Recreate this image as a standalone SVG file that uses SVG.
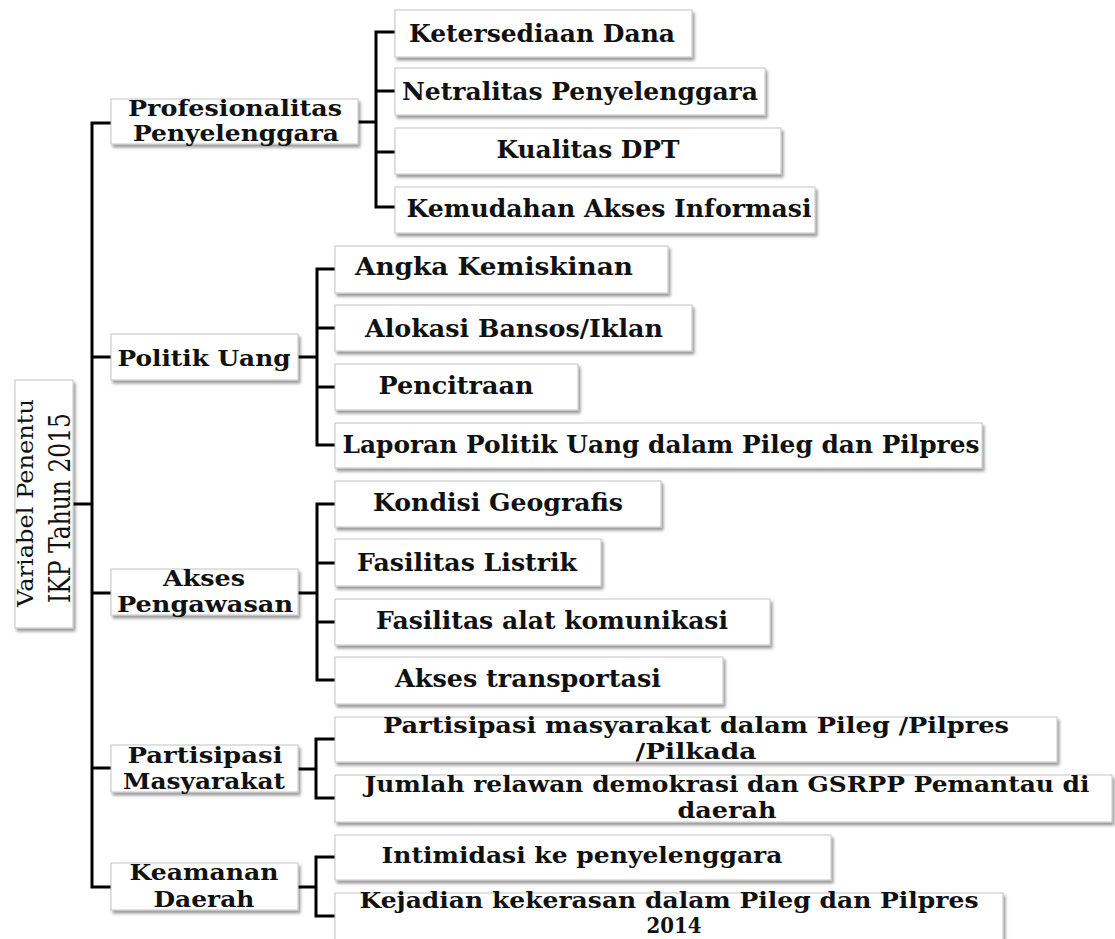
<svg xmlns="http://www.w3.org/2000/svg" width="1115" height="939" viewBox="0 0 1115 939">
<defs>
<filter id="sh" x="-5%" y="-20%" width="112%" height="150%">
<feDropShadow dx="2" dy="3" stdDeviation="1.8" flood-color="#000" flood-opacity="0.4"/>
</filter>
</defs>
<style>
.box{fill:#fff;stroke:#c4c4c4;stroke-width:1;filter:url(#sh)}
.conn{fill:none;stroke:#000;stroke-width:3;stroke-linejoin:miter;stroke-linecap:butt}
.t{font-family:"DejaVu Serif","Liberation Serif",serif;font-weight:bold;font-size:24px;fill:#111;text-anchor:middle}
.t1{font-family:"DejaVu Serif","Liberation Serif",serif;font-weight:bold;font-size:23px;fill:#111;text-anchor:middle}
.ts{font-family:"DejaVu Serif","Liberation Serif",serif;font-weight:bold;font-size:23px;fill:#111;text-anchor:middle}
.r{font-family:"DejaVu Serif","Liberation Serif",serif;font-weight:normal;fill:#111;text-anchor:middle}
</style>
<rect width="1115" height="939" fill="#fff"/>
<g id="connectors">
<path class="conn" d="M73,504 H92"/>
<path class="conn" d="M111,123 H92 V887 H111"/>
<path class="conn" d="M92,357 H111 M92,593 H111 M92,768 H111"/>
<path class="conn" d="M358,122 H376 M395,32 H376 V207 H395 M376,91 H395 M376,152 H395"/>
<path class="conn" d="M298,357 H317 M335,269 H317 V445 H335 M317,328 H335 M317,387 H335"/>
<path class="conn" d="M298,593 H317 M335,504 H317 V680 H335 M317,563 H335 M317,622 H335"/>
<path class="conn" d="M298,769 H316 M335,739 H316 V798 H335"/>
<path class="conn" d="M298,887 H316 M335,857 H316 V916 H335"/>
</g>
<g id="root">
<rect class="box" x="15" y="380" width="58" height="248"/>
<text class="r" font-size="23" transform="translate(33,503) rotate(-90)" textLength="208" lengthAdjust="spacingAndGlyphs">Variabel Penentu</text>
<text class="r" font-size="29" transform="translate(70,508) rotate(-90)" textLength="190" lengthAdjust="spacingAndGlyphs">IKP Tahun 2015</text>
</g>
<g id="profesionalitas">
<rect class="box" x="111" y="99" width="247" height="45"/>
<text class="t1" x="235" y="116" textLength="214" lengthAdjust="spacingAndGlyphs">Profesionalitas</text>
<text class="t1" x="236" y="141" textLength="206" lengthAdjust="spacingAndGlyphs">Penyelenggara</text>
</g>
<g id="ketersediaan">
<rect class="box" x="395" y="10" width="297" height="47"/>
<text class="t" x="542" y="42" textLength="266" lengthAdjust="spacingAndGlyphs">Ketersediaan Dana</text>
</g>
<g id="netralitas">
<rect class="box" x="395" y="68" width="370" height="47"/>
<text class="t" x="580" y="100" textLength="356" lengthAdjust="spacingAndGlyphs">Netralitas Penyelenggara</text>
</g>
<g id="kualitas">
<rect class="box" x="395" y="128" width="386" height="46"/>
<text class="t" x="588" y="158" textLength="183" lengthAdjust="spacingAndGlyphs">Kualitas DPT</text>
</g>
<g id="kemudahan">
<rect class="box" x="395" y="187" width="420" height="46"/>
<text class="t" x="609" y="217" textLength="405" lengthAdjust="spacingAndGlyphs">Kemudahan Akses Informasi</text>
</g>
<g id="politik">
<rect class="box" x="111" y="334" width="187" height="46"/>
<text class="t1" x="204" y="366" textLength="173" lengthAdjust="spacingAndGlyphs">Politik Uang</text>
</g>
<g id="angka">
<rect class="box" x="335" y="246" width="333" height="47"/>
<text class="t" x="494" y="275" textLength="278" lengthAdjust="spacingAndGlyphs">Angka Kemiskinan</text>
</g>
<g id="alokasi">
<rect class="box" x="335" y="305" width="357" height="46"/>
<text class="t" x="514" y="337" textLength="298" lengthAdjust="spacingAndGlyphs">Alokasi Bansos/Iklan</text>
</g>
<g id="pencitraan">
<rect class="box" x="335" y="364" width="243" height="46"/>
<text class="t" x="456" y="394" textLength="155" lengthAdjust="spacingAndGlyphs">Pencitraan</text>
</g>
<g id="laporan">
<rect class="box" x="335" y="423" width="647" height="45"/>
<text class="t" x="661" y="453" textLength="637" lengthAdjust="spacingAndGlyphs">Laporan Politik Uang dalam Pileg dan Pilpres</text>
</g>
<g id="akses">
<rect class="box" x="111" y="569" width="187" height="46"/>
<text class="t1" x="204" y="586" textLength="82" lengthAdjust="spacingAndGlyphs">Akses</text>
<text class="t1" x="205" y="612" textLength="176" lengthAdjust="spacingAndGlyphs">Pengawasan</text>
</g>
<g id="kondisi">
<rect class="box" x="335" y="481" width="326" height="46"/>
<text class="t" x="498" y="511" textLength="250" lengthAdjust="spacingAndGlyphs">Kondisi Geografis</text>
</g>
<g id="listrik">
<rect class="box" x="335" y="539" width="266" height="47"/>
<text class="t" x="467" y="571" textLength="220" lengthAdjust="spacingAndGlyphs">Fasilitas Listrik</text>
</g>
<g id="komunikasi">
<rect class="box" x="335" y="599" width="435" height="46"/>
<text class="t" x="552" y="629" textLength="352" lengthAdjust="spacingAndGlyphs">Fasilitas alat komunikasi</text>
</g>
<g id="transportasi">
<rect class="box" x="335" y="657" width="388" height="47"/>
<text class="t" x="528" y="687" textLength="266" lengthAdjust="spacingAndGlyphs">Akses transportasi</text>
</g>
<g id="partisipasi">
<rect class="box" x="111" y="745" width="187" height="47"/>
<text class="t1" x="205" y="763" textLength="155" lengthAdjust="spacingAndGlyphs">Partisipasi</text>
<text class="t1" x="204" y="789" textLength="162" lengthAdjust="spacingAndGlyphs">Masyarakat</text>
</g>
<g id="partisipasi-pileg">
<rect class="box" x="335" y="717" width="722" height="45"/>
<text class="ts" x="696" y="733" textLength="626" lengthAdjust="spacingAndGlyphs">Partisipasi masyarakat  dalam Pileg /Pilpres</text>
<text class="ts" x="696" y="759" textLength="121" lengthAdjust="spacingAndGlyphs">/Pilkada</text>
</g>
<g id="relawan">
<rect class="box" x="335" y="775" width="777" height="47"/>
<text class="ts" x="727" y="792" textLength="725" lengthAdjust="spacingAndGlyphs">Jumlah relawan demokrasi dan GSRPP Pemantau di</text>
<text class="ts" x="727" y="818" textLength="99" lengthAdjust="spacingAndGlyphs">daerah</text>
</g>
<g id="keamanan">
<rect class="box" x="111" y="863" width="187" height="47"/>
<text class="t1" x="204" y="880" textLength="149" lengthAdjust="spacingAndGlyphs">Keamanan</text>
<text class="t1" x="204" y="907" textLength="101" lengthAdjust="spacingAndGlyphs">Daerah</text>
</g>
<g id="intimidasi">
<rect class="box" x="335" y="835" width="496" height="45"/>
<text class="ts" x="582" y="863" textLength="401" lengthAdjust="spacingAndGlyphs">Intimidasi ke penyelenggara</text>
</g>
<g id="kejadian">
<rect class="box" x="335" y="893" width="668" height="60"/>
<text class="ts" x="669" y="908" textLength="619" lengthAdjust="spacingAndGlyphs">Kejadian kekerasan dalam Pileg dan Pilpres</text>
<text class="ts" font-size="20" x="674" y="933" textLength="55" lengthAdjust="spacingAndGlyphs">2014</text>
</g>
</svg>
